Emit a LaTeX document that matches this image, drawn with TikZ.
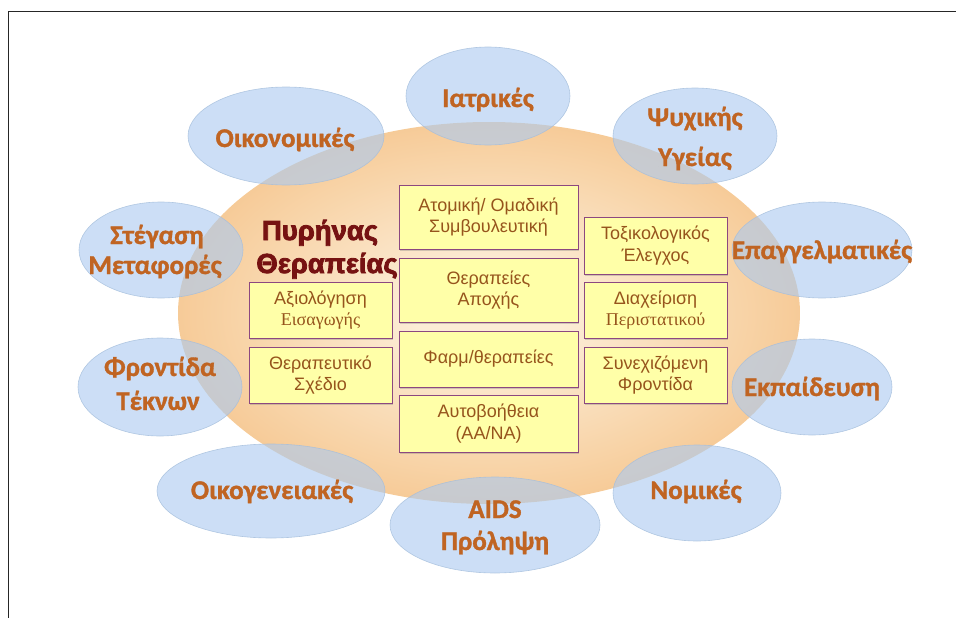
\documentclass[tikz,border=0pt]{standalone}
\usepackage{fontspec}
\setmainfont{Liberation Sans}
\newfontfamily\ellfont[BoldFeatures={FakeBold=1.2}]{Carlito}
\newfontfamily\serfont{Liberation Serif}
\newfontfamily\titlefont[BoldFeatures={FakeBold=3}]{Liberation Sans}
\usetikzlibrary{shadows}
\definecolor{orA}{RGB}{252,236,214}
\definecolor{orB}{RGB}{248,212,168}
\definecolor{orC}{RGB}{244,190,130}
\definecolor{bluefill}{RGB}{172,202,240}
\definecolor{blueline}{RGB}{165,190,220}
\definecolor{ellText}{RGB}{192,100,34}
\definecolor{boxText}{RGB}{150,84,28}
\definecolor{titleRed}{RGB}{118,18,18}
\definecolor{boxFill}{RGB}{255,255,168}
\definecolor{boxLine}{RGB}{140,72,128}
\pgfdeclareradialshading{coreglow}{\pgfpoint{0bp}{0bp}}{color(0bp)=(orA); color(6bp)=(orA); color(20bp)=(orB); color(32bp)=(orC); color(100bp)=(orC)}
\tikzset{
  ellshape/.style={fill=bluefill, fill opacity=0.62, draw=blueline, draw opacity=0.8, line width=0.6pt},
  elllabel/.style={anchor=base, inner sep=0pt, text=ellText, font=\ellfont\bfseries\fontsize{27}{30}\selectfont},
  corebox/.style={draw=boxLine, line width=1pt, fill=boxFill, align=center, text=boxText,
    font=\fontsize{18}{21.5}\selectfont, inner sep=0pt,
    drop shadow={opacity=0.35, shadow xshift=0.8pt, shadow yshift=-1.6pt}},
  titlelabel/.style={anchor=base, inner sep=0pt, text=titleRed, font=\titlefont\bfseries\fontsize{27.5}{30}\selectfont}
}
\begin{document}
\begin{tikzpicture}[x=1pt,y=-1pt]
\useasboundingbox (0,0) rectangle (956,618);
% frame
\draw[line width=1pt, black!85] (8,618) -- (8,12) -- (956,12);
% core
\shade[shading=coreglow] (489,313) ellipse [x radius=311pt, y radius=191pt];
% outer ellipses
\path[ellshape] (488,96) ellipse [x radius=82pt, y radius=49pt];
\path[ellshape] (695,136) ellipse [x radius=82pt, y radius=48pt];
\path[ellshape] (286,136) ellipse [x radius=98pt, y radius=49pt];
\path[ellshape] (822,250) ellipse [x radius=90pt, y radius=48pt];
\path[ellshape] (812,387) ellipse [x radius=80pt, y radius=48pt];
\path[ellshape] (161,250) ellipse [x radius=82pt, y radius=48pt];
\path[ellshape] (160,387) ellipse [x radius=82pt, y radius=49pt];
\path[ellshape] (271,491) ellipse [x radius=114pt, y radius=47pt];
\path[ellshape] (495,525) ellipse [x radius=105pt, y radius=48pt];
\path[ellshape] (697,493) ellipse [x radius=84pt, y radius=48pt];
% boxes
\node[corebox, minimum width=179pt, minimum height=64pt] (b1) at (488.5,217) {Ατομική/ Ομαδική\\Συμβουλευτική};
\node[corebox, minimum width=179pt, minimum height=64pt] (b2) at (488.5,290) {Θεραπείες\\Αποχής};
\node[corebox, minimum width=179pt, minimum height=56pt] (b3) at (488.5,359) {Φαρμ/θεραπείες};
\node[corebox, minimum width=179pt, minimum height=57pt] (b4) at (488.5,423.5) {Αυτοβοήθεια\\(AA/NA)};
\node[corebox, minimum width=143pt, minimum height=56pt] (l1) at (320.5,310) {Αξιολόγηση\\{\serfont Εισαγωγής}};
\node[corebox, minimum width=143pt, minimum height=56pt] (l2) at (320.5,375) {Θεραπευτικό\\Σχέδιο};
\node[corebox, minimum width=143pt, minimum height=57pt] (r1) at (655.5,245.5) {Τοξικολογικός\\Έλεγχος};
\node[corebox, minimum width=143pt, minimum height=56pt] (r2) at (655.5,310) {Διαχείριση\\{\serfont Περιστατικού}};
\node[corebox, minimum width=143pt, minimum height=56pt] (r3) at (655.5,375) {Συνεχιζόμενη\\Φροντίδα};
% title
\node[titlelabel] (t1) at (320,240) {Πυρήνας};
\node[titlelabel] (t2) at (327,273) {Θεραπείας};
% ellipse labels
\node[elllabel] (e1) at (488,107) {Ιατρικές};
\node[elllabel] (e2a) at (695,126) {Ψυχικής};
\node[elllabel] (e2b) at (695,166) {Υγείας};
\node[elllabel] (e3) at (285,147) {Οικονομικές};
\node[elllabel] (e4) at (822,259) {Επαγγελματικές};
\node[elllabel] (e5) at (812,396) {Εκπαίδευση};
\node[elllabel] (e6a) at (157,244) {Στέγαση};
\node[elllabel] (e6b) at (155,274) {Μεταφορές};
\node[elllabel] (e7a) at (160,376) {Φροντίδα};
\node[elllabel] (e7b) at (158,410) {Τέκνων};
\node[elllabel] (e8) at (272,499) {Οικογενειακές};
\node[elllabel] (e9a) at (495,518) {AIDS};
\node[elllabel] (e9b) at (495,550) {Πρόληψη};
\node[elllabel] (e10) at (696,499) {Νομικές};
\end{tikzpicture}
\end{document}
